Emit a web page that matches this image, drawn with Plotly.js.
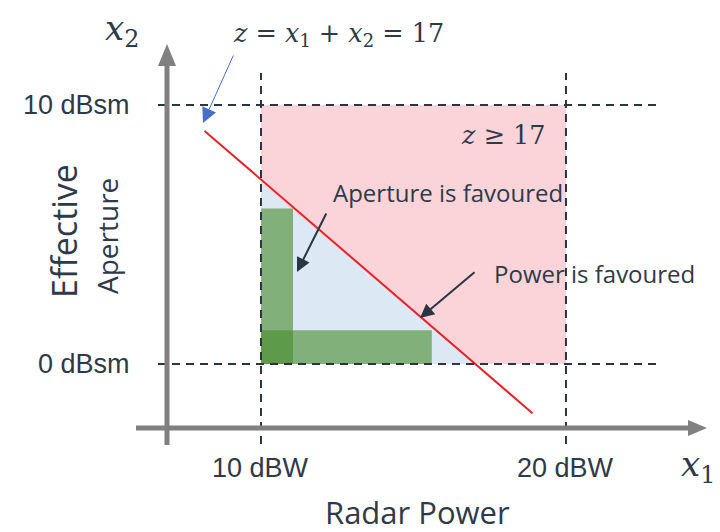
<!DOCTYPE html>
<html>
<head>
<meta charset="utf-8">
<script src="https://cdn.plot.ly/plotly-3.0.1.min.js"></script>
<style>html,body{margin:0;padding:0;background:#fff;}#chart{width:720px;height:532px;}</style>
</head>
<body>
<div id="chart"></div>
<script>
// ---- data ----
const powerTicks = [10, 20];
const powerLabels = ['10 dBW', '20 dBW'];
const apertureTicks = [0, 10];
const apertureLabels = ['0 dBsm', '10 dBsm'];
const zThreshold = 17;
// feasible region z >= 17 (pink box)
const boxX = [10, 20, 20, 10];
const boxY = [0, 0, 10, 10];
// region below the line (light blue triangle)
const triX = [10, 10, 17];
const triY = [0, 7, 0];
// line z = x1 + x2 = 17, endpoints as read
const lineX = [8.15, 18.9];
const lineY = [9.0, -1.9];
// green bars
const apertureBarX = [10, 11.05, 11.05, 10];
const apertureBarY = [0, 0, 6.0, 6.0];
const powerBarX = [10, 15.6, 15.6, 10];
const powerBarY = [0, 0, 1.3, 1.3];

// ---- layout helpers (pixel -> data for label placement) ----
const XR = [1.443, 25.05], YR = [-6.486, 14.054];
const X = px => XR[0] + px / 720 * (XR[1] - XR[0]);
const Y = py => YR[1] - py / 532 * (YR[1] - YR[0]);

const txt = '#2e3a48';
const sans = 'Liberation Sans, Arial, sans-serif';
const cal = 'Open Sans, Lato, sans-serif';
const ser = 'DejaVu Serif, Liberation Serif, serif';

const traces = [
  {x: boxX, y: boxY, fill: 'toself', fillcolor: '#fad4d8', mode: 'none', type: 'scatter', hoverinfo: 'skip'},
  {x: triX, y: triY, fill: 'toself', fillcolor: '#dce8f4', mode: 'none', type: 'scatter', hoverinfo: 'skip'},
  {x: apertureBarX, y: apertureBarY, fill: 'toself', fillcolor: 'rgba(73,140,44,0.61)', mode: 'none', type: 'scatter', hoverinfo: 'skip'},
  {x: powerBarX, y: powerBarY, fill: 'toself', fillcolor: 'rgba(73,140,44,0.61)', mode: 'none', type: 'scatter', hoverinfo: 'skip'},
  {x: lineX, y: lineY, mode: 'lines', type: 'scatter', line: {color: '#e3242b', width: 2}, hoverinfo: 'skip'}
];

const dashed = {color: '#2b3540', width: 2, dash: '8px,6px'};
const shapes = [];
apertureTicks.forEach(v => shapes.push({type: 'line', xref: 'x', yref: 'y', x0: X(158), x1: X(660), y0: v, y1: v, line: dashed, layer: 'above'}));
powerTicks.forEach(v => shapes.push({type: 'line', xref: 'x', yref: 'y', x0: v, x1: v, y0: Y(444), y1: Y(73), line: dashed, layer: 'above'}));
// gray axes
const gray = '#808080';
shapes.push({type: 'line', x0: X(167), x1: X(167), y0: Y(445), y1: Y(64), line: {color: gray, width: 5}});
shapes.push({type: 'path', path: `M ${X(158)},${Y(66)} L ${X(167)},${Y(44)} L ${X(176)},${Y(66)} Z`, fillcolor: gray, line: {width: 0}});
shapes.push({type: 'line', x0: X(136), x1: X(690), y0: Y(428), y1: Y(428), line: {color: gray, width: 5}});
shapes.push({type: 'path', path: `M ${X(688)},${Y(420)} L ${X(707)},${Y(428)} L ${X(688)},${Y(436)} Z`, fillcolor: gray, line: {width: 0}});

const ann = [];
const label = (text, px, py, size, font, xanchor) => ann.push({text, x: X(px), y: Y(py), xref: 'x', yref: 'y', showarrow: false, xanchor: xanchor || 'center', yanchor: 'middle', font: {family: font, size, color: txt}});
apertureTicks.forEach((v, i) => ann.push({text: apertureLabels[i], x: X(132), y: v, xref: 'x', yref: 'y', showarrow: false, xanchor: 'right', yanchor: 'middle', font: {family: sans, size: 27, color: txt}}));
powerTicks.forEach((v, i) => ann.push({text: powerLabels[i], x: v, y: Y(468), xref: 'x', yref: 'y', showarrow: false, xanchor: 'center', yanchor: 'middle', font: {family: sans, size: 27, color: txt}}));
label('Radar Power', 417, 512, 31, cal);
ann.push({text: 'Effective', x: X(64), y: Y(231), xref: 'x', yref: 'y', showarrow: false, textangle: -90, font: {family: cal, size: 34, color: txt}});
ann.push({text: 'Aperture', x: X(107), y: Y(236), xref: 'x', yref: 'y', showarrow: false, textangle: -90, font: {family: cal, size: 28, color: txt}});
label('<i>x</i><sub>2</sub>', 122, 30, 34, ser);
label('<i>x</i><sub>1</sub>', 698, 466, 34, ser);
label('<i>z</i> = <i>x</i><sub>1</sub> + <i>x</i><sub>2</sub> = ' + zThreshold, 338, 34, 25.5, ser);
label('<i>z</i> ≥ ' + zThreshold, 503, 135, 25.5, ser);
label('Aperture is favoured', 448, 192, 24, cal);
label('Power is favoured', 594, 273, 24, cal);

// arrows
const arrow = (tipPx, tipPy, tailPx, tailPy, color, width, size) => ann.push({text: '', x: X(tipPx), y: Y(tipPy), ax: X(tailPx), ay: Y(tailPy), xref: 'x', yref: 'y', axref: 'x', ayref: 'y', showarrow: true, arrowhead: 2, arrowsize: size, arrowwidth: width, arrowcolor: color});
arrow(203, 123, 234, 54, '#4472c4', 1, 3);
arrow(297, 272, 327, 212, '#2b3540', 2, 1.4);
arrow(420, 318, 476, 271, '#2b3540', 2, 1.4);

const layout = {
  width: 720, height: 532,
  margin: {l: 0, r: 0, t: 0, b: 0},
  paper_bgcolor: '#fff', plot_bgcolor: '#fff',
  showlegend: false,
  xaxis: {range: XR, visible: false, fixedrange: true},
  yaxis: {range: YR, visible: false, fixedrange: true},
  shapes: shapes,
  annotations: ann
};
Plotly.newPlot('chart', traces, layout, {displayModeBar: false, staticPlot: true});
</script>
</body>
</html>
